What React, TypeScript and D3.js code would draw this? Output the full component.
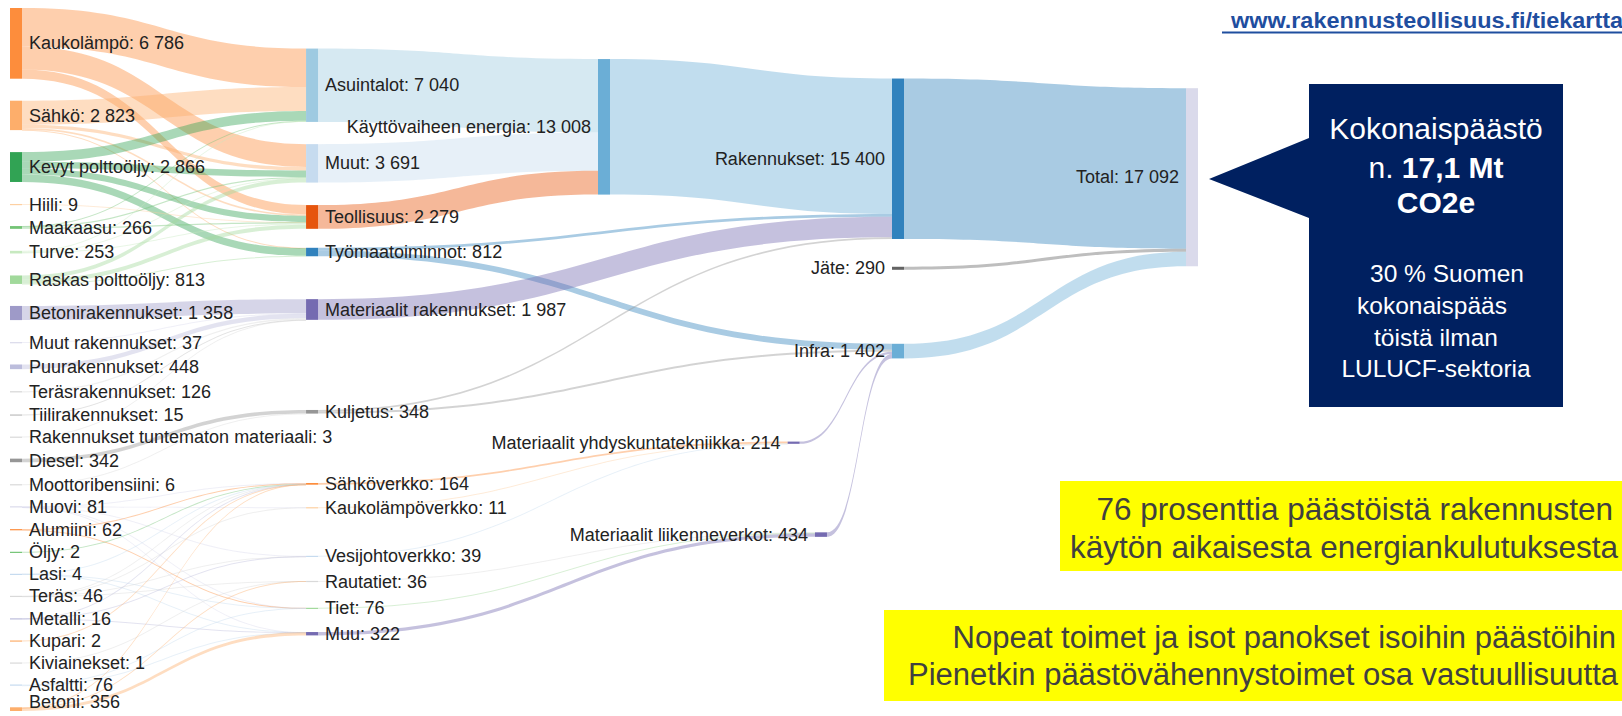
import React, { useMemo } from 'react';
import * as d3 from 'd3';

// ---------------- DATA ----------------
const energySources = ['Kaukolämpö', 'Sähkö', 'Kevyt polttoöljy', 'Hiili', 'Maakaasu', 'Turve', 'Raskas polttoöljy'];
const energySourceValues = [6786, 2823, 2866, 9, 266, 253, 813];

const buildingMaterials = ['Betonirakennukset', 'Muut rakennukset', 'Puurakennukset', 'Teräsrakennukset', 'Tiilirakennukset', 'Rakennukset tuntematon materiaali'];
const buildingMaterialValues = [1358, 37, 448, 126, 15, 3];

const transportFuels = ['Diesel', 'Moottoribensiini'];
const transportFuelValues = [342, 6];

const infraMaterials = ['Muovi', 'Alumiini', 'Öljy', 'Lasi', 'Teräs', 'Metalli', 'Kupari', 'Kiviainekset', 'Asfaltti', 'Betoni'];
const infraMaterialValues = [81, 62, 2, 4, 46, 16, 2, 1, 76, 356];

const stage1 = ['Asuintalot', 'Muut', 'Teollisuus', 'Työmaatoiminnot', 'Materiaalit rakennukset', 'Kuljetus', 'Sähköverkko', 'Kaukolämpöverkko', 'Vesijohtoverkko', 'Rautatiet', 'Tiet', 'Muu'];
const stage1Values = [7040, 3691, 2279, 812, 1987, 348, 164, 11, 39, 36, 76, 322];

const stage2 = ['Käyttövaiheen energia', 'Materiaalit yhdyskuntatekniikka', 'Materiaalit liikenneverkot'];
const stage2Values = [13008, 214, 434];

const stage3 = ['Rakennukset', 'Jäte', 'Infra'];
const stage3Values = [15400, 290, 1402];

const stage4 = ['Total'];
const stage4Values = [17092];

type Flow = [string, string, number];

const energyFlows: Flow[] = [
  ['Kaukolämpö', 'Asuintalot', 3700], ['Kaukolämpö', 'Muut', 2200], ['Kaukolämpö', 'Teollisuus', 886],
  ['Sähkö', 'Asuintalot', 2300], ['Sähkö', 'Muut', 330], ['Sähkö', 'Teollisuus', 150], ['Sähkö', 'Työmaatoiminnot', 43],
  ['Kevyt polttoöljy', 'Asuintalot', 920], ['Kevyt polttoöljy', 'Muut', 620], ['Kevyt polttoöljy', 'Teollisuus', 600], ['Kevyt polttoöljy', 'Työmaatoiminnot', 726],
  ['Hiili', 'Teollisuus', 9],
  ['Maakaasu', 'Asuintalot', 40], ['Maakaasu', 'Muut', 100], ['Maakaasu', 'Teollisuus', 126],
  ['Turve', 'Asuintalot', 80], ['Turve', 'Muut', 60], ['Turve', 'Teollisuus', 113],
  ['Raskas polttoöljy', 'Muut', 381], ['Raskas polttoöljy', 'Teollisuus', 395], ['Raskas polttoöljy', 'Työmaatoiminnot', 37],
];

const buildingMaterialFlows: Flow[] = [
  ['Betonirakennukset', 'Materiaalit rakennukset', 1358],
  ['Muut rakennukset', 'Materiaalit rakennukset', 37],
  ['Puurakennukset', 'Materiaalit rakennukset', 448],
  ['Teräsrakennukset', 'Materiaalit rakennukset', 126],
  ['Tiilirakennukset', 'Materiaalit rakennukset', 15],
  ['Rakennukset tuntematon materiaali', 'Materiaalit rakennukset', 3],
];

const transportFlows: Flow[] = [
  ['Diesel', 'Kuljetus', 342], ['Moottoribensiini', 'Kuljetus', 6],
];

const infraMaterialFlows: Flow[] = [
  ['Muovi', 'Sähköverkko', 30], ['Muovi', 'Kaukolämpöverkko', 5], ['Muovi', 'Vesijohtoverkko', 32], ['Muovi', 'Tiet', 6], ['Muovi', 'Muu', 8],
  ['Alumiini', 'Sähköverkko', 55], ['Alumiini', 'Tiet', 7],
  ['Öljy', 'Sähköverkko', 2],
  ['Lasi', 'Sähköverkko', 2], ['Lasi', 'Tiet', 1], ['Lasi', 'Muu', 1],
  ['Teräs', 'Sähköverkko', 20], ['Teräs', 'Kaukolämpöverkko', 6], ['Teräs', 'Vesijohtoverkko', 5], ['Teräs', 'Rautatiet', 15],
  ['Metalli', 'Sähköverkko', 10], ['Metalli', 'Vesijohtoverkko', 2], ['Metalli', 'Muu', 4],
  ['Kupari', 'Sähköverkko', 2],
  ['Kiviainekset', 'Rautatiet', 1],
  ['Asfaltti', 'Tiet', 62], ['Asfaltti', 'Muu', 14],
  ['Betoni', 'Sähköverkko', 43], ['Betoni', 'Rautatiet', 20], ['Betoni', 'Muu', 293],
];

const stageFlows: Flow[] = [
  ['Asuintalot', 'Käyttövaiheen energia', 7040], ['Muut', 'Käyttövaiheen energia', 3691], ['Teollisuus', 'Käyttövaiheen energia', 2279],
  ['Työmaatoiminnot', 'Rakennukset', 250], ['Työmaatoiminnot', 'Infra', 562],
  ['Materiaalit rakennukset', 'Rakennukset', 1987],
  ['Kuljetus', 'Rakennukset', 155], ['Kuljetus', 'Infra', 193],
  ['Sähköverkko', 'Materiaalit yhdyskuntatekniikka', 164], ['Kaukolämpöverkko', 'Materiaalit yhdyskuntatekniikka', 11], ['Vesijohtoverkko', 'Materiaalit yhdyskuntatekniikka', 39],
  ['Rautatiet', 'Materiaalit liikenneverkot', 36], ['Tiet', 'Materiaalit liikenneverkot', 76], ['Muu', 'Materiaalit liikenneverkot', 322],
  ['Käyttövaiheen energia', 'Rakennukset', 13008],
  ['Materiaalit yhdyskuntatekniikka', 'Infra', 214], ['Materiaalit liikenneverkot', 'Infra', 434],
  ['Rakennukset', 'Total', 15400], ['Jäte', 'Total', 290], ['Infra', 'Total', 1402],
];

// ---------------- STYLE / LAYOUT CONFIG ----------------
const W = 1622;
const H = 716;
const NODE_W = 12;
const PAD = 22;
const TOP = 8;
const BOTTOM = 711;
const ITERATIONS = 32;
const LINK_OPACITY = 0.42;
const LABEL_SIZE = 18;
const FONT = '"Liberation Sans", Arial, Helvetica, sans-serif';

const NODE_COLOR: Record<string, string> = {
  'Kaukolämpö': '#fd8d3c', 'Sähkö': '#fdae6b', 'Kevyt polttoöljy': '#31a354', 'Hiili': '#fdd0a2',
  'Maakaasu': '#74c476', 'Turve': '#c7e9c0', 'Raskas polttoöljy': '#a1d99b',
  'Betonirakennukset': '#9e9ac8', 'Muut rakennukset': '#dadaeb', 'Puurakennukset': '#bcbddc',
  'Teräsrakennukset': '#d9d9d9', 'Tiilirakennukset': '#bdbdbd', 'Rakennukset tuntematon materiaali': '#d9d9d9',
  'Diesel': '#969696', 'Moottoribensiini': '#d9d9d9',
  'Muovi': '#dadaeb', 'Alumiini': '#fd8d3c', 'Öljy': '#74c476', 'Lasi': '#c6dbef', 'Teräs': '#d9d9d9',
  'Metalli': '#bcbddc', 'Kupari': '#fdae6b', 'Kiviainekset': '#d9d9d9', 'Asfaltti': '#c6dbef', 'Betoni': '#fdae6b',
  'Asuintalot': '#9ecae1', 'Muut': '#c6dbef', 'Teollisuus': '#e6550d', 'Työmaatoiminnot': '#3182bd',
  'Materiaalit rakennukset': '#756bb1', 'Kuljetus': '#969696', 'Sähköverkko': '#fd8d3c', 'Kaukolämpöverkko': '#fdd0a2',
  'Vesijohtoverkko': '#c6dbef', 'Rautatiet': '#d9d9d9', 'Tiet': '#a1d99b', 'Muu': '#756bb1',
  'Käyttövaiheen energia': '#6baed6', 'Materiaalit yhdyskuntatekniikka': '#756bb1', 'Materiaalit liikenneverkot': '#756bb1',
  'Rakennukset': '#3182bd', 'Jäte': '#636363', 'Infra': '#6baed6', 'Total': '#dadaeb',
};

// Manual node moves applied after the automatic layout (as in a dragged sankey),
// expressed as fractions of the stage spacing (x) and of the diagram height (y).
const NODE_MOVES: Record<string, [number, number]> = {
  'Asuintalot': [0.007, -0.0287], 'Muut': [0.007, -0.0284], 'Teollisuus': [0.007, -0.0277], 'Työmaatoiminnot': [0.007, -0.032],
  'Materiaalit rakennukset': [0.007, -0.043], 'Kuljetus': [0.007, -0.0441], 'Sähköverkko': [0.007, -0.0825],
  'Kaukolämpöverkko': [0.007, -0.0818], 'Vesijohtoverkko': [0.007, -0.0441], 'Rautatiet': [0.007, -0.0455],
  'Tiet': [0.007, -0.0391], 'Muu': [0.007, -0.037],
  'Käyttövaiheen energia': [0, -0.0203], 'Materiaalit yhdyskuntatekniikka': [0.645, -0.0413],
  'Materiaalit liikenneverkot': [0.738, -0.0341],
  'Rakennukset': [0, -0.0238], 'Jäte': [0, -0.0327], 'Infra': [0, -0.0294], 'Total': [0, -0.0228],
};

type SNode = {
  name: string; label: number; col: number; pos: number;
  sourceLinks: SLink[]; targetLinks: SLink[];
  value: number; y: number; dy: number;
};
type SLink = { source: SNode; target: SNode; value: number; dy: number; sy: number; ty: number };

const fmt = d3.formatLocale({ decimal: ',', thousands: ' ', grouping: [3], currency: ['', ''] }).format(',d');

function buildGraph() {
  const stages: [string[], number[]][] = [
    [[...energySources, ...buildingMaterials, ...transportFuels, ...infraMaterials],
     [...energySourceValues, ...buildingMaterialValues, ...transportFuelValues, ...infraMaterialValues]],
    [stage1, stage1Values],
    [stage2, stage2Values],
    [stage3, stage3Values],
    [stage4, stage4Values],
  ];
  const nodes: SNode[] = [];
  const byName = new Map<string, SNode>();
  stages.forEach(([names, vals], col) => {
    names.forEach((name, i) => {
      const n: SNode = {
        name, label: vals[i], col, pos: col,
        sourceLinks: [], targetLinks: [], value: 0, y: 0, dy: 0,
      };
      nodes.push(n);
      byName.set(name, n);
    });
  });
  const links: SLink[] = [];
  [...energyFlows, ...buildingMaterialFlows, ...transportFlows, ...infraMaterialFlows, ...stageFlows].forEach(([s, t, v]) => {
    const source = byName.get(s)!;
    const target = byName.get(t)!;
    const l: SLink = { source, target, value: v, dy: 0, sy: 0, ty: 0 };
    source.sourceLinks.push(l);
    target.targetLinks.push(l);
    links.push(l);
  });
  return { nodes, links };
}

function layoutSankey(nodes: SNode[], links: SLink[], iterations: number) {
  const height = BOTTOM - TOP;
  nodes.forEach((n) => {
    n.value = Math.max(d3.sum(n.sourceLinks, (l) => l.value), d3.sum(n.targetLinks, (l) => l.value));
  });
  const cols = d3.groups(nodes, (n) => n.col).sort((a, b) => a[0] - b[0]).map((g) => g[1]);
  const ky = d3.min(cols, (c) => (height - (c.length - 1) * PAD) / d3.sum(c, (n) => n.value))!;
  cols.forEach((c) => c.forEach((n, i) => { n.y = i; n.dy = n.value * ky; }));
  links.forEach((l) => { l.dy = l.value * ky; });
  const center = (n: SNode) => n.y + n.dy / 2;

  const resolve = () => {
    cols.forEach((c) => {
      let y0 = 0;
      let node = c[0];
      for (const n of c) {
        node = n;
        const d = y0 - n.y;
        if (d > 0) n.y += d;
        y0 = n.y + n.dy + PAD;
      }
      let d = y0 - PAD - height;
      if (d > 0) {
        node.y -= d;
        y0 = node.y;
        for (let i = c.length - 2; i >= 0; --i) {
          const n = c[i];
          d = n.y + n.dy + PAD - y0;
          if (d > 0) n.y -= d;
          y0 = n.y;
        }
      }
    });
  };

  resolve();
  let alpha = 1;
  for (let it = iterations; it > 0; --it) {
    alpha *= 0.99;
    cols.slice().reverse().forEach((c) => c.forEach((n) => {
      if (n.sourceLinks.length) {
        const y = d3.sum(n.sourceLinks, (l) => center(l.target) * l.value) / d3.sum(n.sourceLinks, (l) => l.value);
        n.y += (y - center(n)) * alpha;
      }
    }));
    resolve();
    cols.forEach((c) => c.forEach((n) => {
      if (n.targetLinks.length) {
        const y = d3.sum(n.targetLinks, (l) => center(l.source) * l.value) / d3.sum(n.targetLinks, (l) => l.value);
        n.y += (y - center(n)) * alpha;
      }
    }));
    resolve();
  }

  // manual moves
  nodes.forEach((n) => {
    const mv = NODE_MOVES[n.name];
    if (mv) { n.pos += mv[0]; n.y += mv[1] * height; }
  });

  nodes.forEach((n) => {
    n.sourceLinks.sort((a, b) => a.target.y - b.target.y);
    n.targetLinks.sort((a, b) => a.source.y - b.source.y);
  });
  nodes.forEach((n) => {
    let sy = 0;
    let ty = 0;
    n.sourceLinks.forEach((l) => { l.sy = sy; sy += l.dy; });
    n.targetLinks.forEach((l) => { l.ty = ty; ty += l.dy; });
  });
  nodes.forEach((n) => { n.y += TOP; });
}

const colX = d3.scaleLinear().domain([0, 4]).range([10, 1186]);

function linkPath(l: SLink) {
  const x0 = colX(l.source.pos) + NODE_W;
  const x1 = colX(l.target.pos);
  const w = Math.max(l.dy, 1);
  const s0 = l.source.y + l.sy;
  const t0 = l.target.y + l.ty;
  const xm = (x0 + x1) / 2;
  const p = d3.path();
  p.moveTo(x0, s0);
  p.bezierCurveTo(xm, s0, xm, t0, x1, t0);
  p.lineTo(x1, t0 + w);
  p.bezierCurveTo(xm, t0 + w, xm, s0 + w, x0, s0 + w);
  p.closePath();
  return p.toString();
}

export default function App() {
  const { nodes, links } = useMemo(() => {
    const g = buildGraph();
    layoutSankey(g.nodes, g.links, ITERATIONS);
    return g;
  }, []);

  const maxLabelY = H - 4 - LABEL_SIZE * 0.55;

  return (
    <svg width={W} height={H} style={{ position: 'absolute', left: 0, top: 0, background: '#fff' }} fontFamily={FONT}>
      <rect x={0} y={0} width={W} height={H} fill="#fff" />
      <g>
        {links.map((l, i) => (
          <path key={i} d={linkPath(l)} fill={NODE_COLOR[l.source.name]} fillOpacity={LINK_OPACITY} />
        ))}
      </g>
      <g>
        {nodes.map((n) => (
          <rect key={n.name} x={colX(n.pos)} y={n.y} width={NODE_W} height={Math.max(n.dy, 1.2)} fill={NODE_COLOR[n.name]} />
        ))}
      </g>
      <g fontSize={LABEL_SIZE} fill="#222">
        {nodes.map((n) => {
          const right = n.col < 2;
          return (
            <text
              key={n.name}
              x={right ? colX(n.pos) + NODE_W + 7 : colX(n.pos) - 7}
              y={Math.min(n.y + Math.max(n.dy, 1) / 2, maxLabelY)}
              dy="0.34em"
              textAnchor={right ? 'start' : 'end'}
            >
              {`${n.name}: ${fmt(n.label)}`}
            </text>
          );
        })}
      </g>

      {/* source link */}
      <text x={1231} y={28} fontSize={22} fontWeight="bold" fill="#1f4e9f" textLength={392} lengthAdjust="spacingAndGlyphs">
        www.rakennusteollisuus.fi/tiekartta
      </text>
      <line x1={1222} x2={1622} y1={32.5} y2={32.5} stroke="#1f4e9f" strokeWidth={1.8} />

      {/* callout */}
      <path d="M1209,179L1309,138L1309,84L1563,84L1563,407L1309,407L1309,218Z" fill="#002060" />
      <g fill="#fff" textAnchor="middle">
        <text x={1436} y={138.5} fontSize={30}>Kokonaispäästö</text>
        <text x={1436} y={177.5} fontSize={30}>
          n. <tspan fontWeight="bold">17,1 Mt</tspan>
        </text>
        <text x={1436} y={212.5} fontSize={30} fontWeight="bold">CO2e</text>
        <text x={1447} y={281.5} fontSize={24.5}>30 % Suomen</text>
        <text x={1432} y={313.5} fontSize={24.5}>kokonaispääs</text>
        <text x={1436} y={345.5} fontSize={24.5}>töistä ilman</text>
        <text x={1436} y={376.5} fontSize={24.5}>LULUCF-sektoria</text>
      </g>

      {/* highlight boxes */}
      <rect x={1060} y={481} width={562} height={90} fill="#ffff00" />
      <g fill="#404040" fontSize={31.5} textAnchor="end">
        <text x={1613} y={509} dy="0.35em">76 prosenttia päästöistä rakennusten</text>
        <text x={1618} y={547} dy="0.35em">käytön aikaisesta energiankulutuksesta</text>
      </g>
      <rect x={884} y={610} width={738} height={91} fill="#ffff00" />
      <g fill="#404040" fontSize={31} textAnchor="end">
        <text x={1616} y={637} dy="0.35em">Nopeat toimet ja isot panokset isoihin päästöihin</text>
        <text x={1618} y={674} dy="0.35em">Pienetkin päästövähennystoimet osa vastuullisuutta</text>
      </g>
    </svg>
  );
}
